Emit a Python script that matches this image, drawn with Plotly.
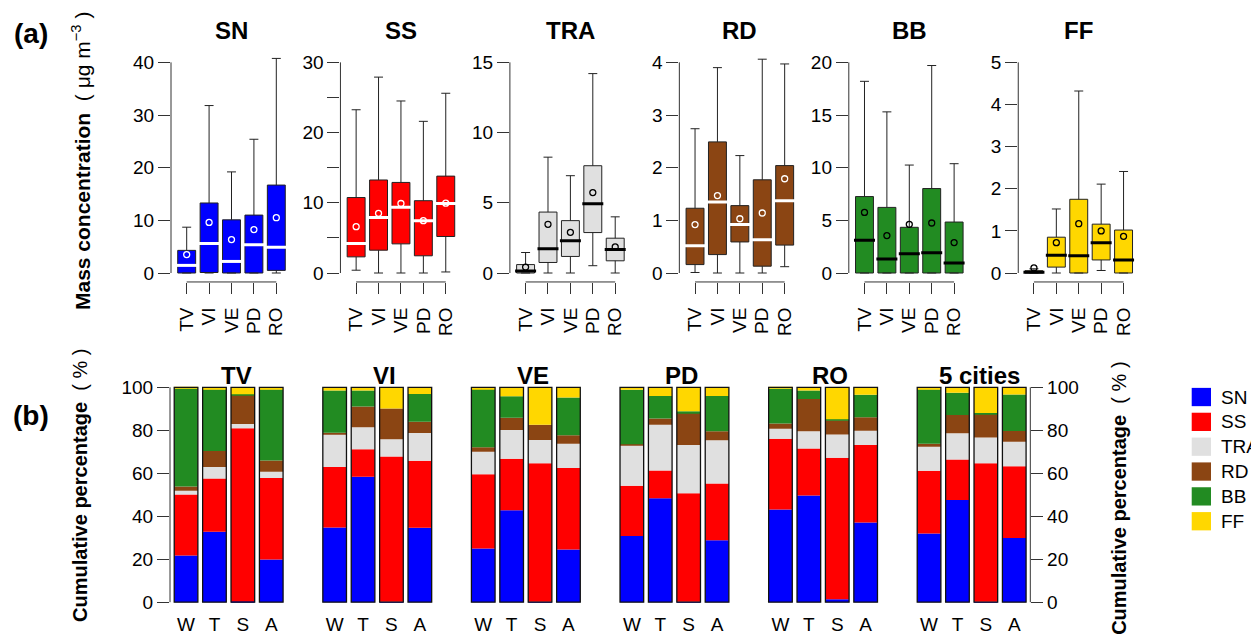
import plotly.graph_objects as go

# page body has an 8px margin: the figure is sized and laid out to compensate
OFF = 8
W, H = 1259 - OFF, 637 - OFF
FONT = "Liberation Sans, Arial, Helvetica, sans-serif"

# ---------------- data ----------------
cities = ["TV", "VI", "VE", "PD", "RO"]
species = ["SN", "SS", "TRA", "RD", "BB", "FF"]
species_colors = ["#0000FF", "#FF0000", "#E0E0E0", "#8B4513", "#228B22", "#FFD700"]
median_colors = ["white", "white", "black", "white", "black", "black"]

# (a) box statistics (ug m-3), order of cities: TV, VI, VE, PD, RO
SN_low = [0, 0, 0, 0, 0]
SN_q1 = [0, 0.1, 0, 0, 0.5]
SN_med = [1.45, 5.6, 2.2, 5.35, 4.9]
SN_q3 = [4.3, 13.3, 10.1, 11.0, 16.7]
SN_high = [8.7, 31.8, 19.2, 25.4, 40.75]
SN_mean = [3.5, 9.6, 6.35, 8.25, 10.5]

SS_low = [0.4, 0, 0, 0, 0.15]
SS_q1 = [2.3, 3.25, 4.15, 2.45, 5.2]
SS_med = [4.2, 7.9, 9.35, 7.45, 9.9]
SS_q3 = [10.75, 13.25, 12.9, 10.3, 13.8]
SS_high = [23.25, 27.9, 24.5, 21.6, 25.6]
SS_mean = [6.6, 8.5, 9.9, 7.45, 9.95]

TRA_low = [0, 0, 0, 0.52, 0]
TRA_q1 = [0, 0.75, 1.18, 2.88, 0.87]
TRA_med = [0.15, 1.72, 2.29, 4.93, 1.67]
TRA_q3 = [0.6, 4.34, 3.73, 7.64, 2.48]
TRA_high = [1.46, 8.25, 6.93, 14.2, 4.0]
TRA_mean = [0.42, 3.47, 2.9, 5.73, 1.86]

RD_low = [0.01, 0, 0, 0, 0.12]
RD_q1 = [0.16, 0.35, 0.59, 0.13, 0.53]
RD_med = [0.52, 1.35, 0.92, 0.63, 1.37]
RD_q3 = [1.23, 2.49, 1.28, 1.77, 2.04]
RD_high = [2.74, 3.9, 2.23, 4.06, 3.97]
RD_mean = [0.92, 1.47, 1.03, 1.14, 1.79]

BB_low = [0, 0, 0, 0, 0]
BB_q1 = [0, 0, 0, 0, 0]
BB_med = [3.11, 1.32, 1.82, 1.92, 0.94]
BB_q3 = [7.26, 6.23, 4.34, 8.02, 4.84]
BB_high = [18.2, 15.3, 10.25, 19.7, 10.38]
BB_mean = [5.75, 3.55, 4.62, 4.75, 2.89]

FF_low = [0, 0, 0, 0.06, 0]
FF_q1 = [0, 0.14, 0, 0.31, 0]
FF_med = [0.02, 0.42, 0.41, 0.72, 0.31]
FF_q3 = [0.055, 0.85, 1.75, 1.16, 1.02]
FF_high = [0.1, 1.52, 4.32, 2.11, 2.41]
FF_mean = [0.12, 0.72, 1.17, 1.0, 0.87]

SN_ticks = [0, 10, 20, 30, 40]
SN_ticklabels = ["0", "10", "20", "30", "40"]
SS_ticks = [0, 5, 10, 15, 20, 25, 30]
SS_ticklabels = ["0", " ", "10", " ", "20", " ", "30"]
TRA_ticks = [0, 5, 10, 15]
TRA_ticklabels = ["0", "5", "10", "15"]
RD_ticks = [0, 1, 2, 3, 4]
RD_ticklabels = ["0", "1", "2", "3", "4"]
BB_ticks = [0, 5, 10, 15, 20]
BB_ticklabels = ["0", "5", "10", "15", "20"]
FF_ticks = [0, 1, 2, 3, 4, 5]
FF_ticklabels = ["0", "1", "2", "3", "4", "5"]

# (b) seasonal contributions (%), seasons W, T, S, A
seasons = ["W", "T", "S", "A"]
sites = ["TV", "VI", "VE", "PD", "RO", "5 cities"]
pct_TV = {"SN": [21.7, 32.8, 0.3, 19.9], "SS": [28.4, 24.8, 80.6, 37.9],
          "TRA": [1.8, 5.3, 2.0, 2.9], "RD": [1.9, 7.5, 13.6, 5.2],
          "BB": [45.7, 28.7, 0.3, 33.2], "FF": [0.5, 0.9, 3.2, 0.9]}
pct_VI = {"SN": [34.8, 58.4, 0.2, 34.7], "SS": [28.1, 12.8, 67.6, 31.1],
          "TRA": [15.4, 10.2, 8.0, 12.9], "RD": [0.6, 9.7, 14.3, 5.3],
          "BB": [19.6, 7.4, 0.0, 12.9], "FF": [1.5, 1.5, 9.9, 3.1]}
pct_VE = {"SN": [25.0, 42.8, 0.2, 24.5], "SS": [34.5, 23.9, 64.5, 37.9],
          "TRA": [10.5, 13.4, 10.8, 11.3], "RD": [2.1, 5.7, 7.1, 4.0],
          "BB": [27.1, 10.0, 0.0, 17.5], "FF": [0.8, 4.2, 17.4, 4.8]}
pct_PD = {"SN": [30.8, 48.4, 0.2, 28.8], "SS": [23.4, 12.9, 50.5, 26.4],
          "TRA": [19.0, 21.3, 22.5, 20.1], "RD": [0.3, 2.9, 14.9, 4.2],
          "BB": [25.3, 10.5, 0.7, 16.5], "FF": [1.2, 4.0, 11.2, 4.0]}
pct_RO = {"SN": [43.1, 49.6, 1.4, 37.1], "SS": [33.0, 21.9, 65.8, 36.1],
          "TRA": [4.6, 8.0, 10.8, 6.6], "RD": [2.5, 15.0, 6.7, 6.3],
          "BB": [16.2, 4.0, 0.4, 10.4], "FF": [0.6, 1.5, 14.9, 3.5]}
pct_ALL = {"SN": [32.0, 47.6, 0.2, 29.9], "SS": [29.2, 18.8, 64.5, 33.4],
           "TRA": [11.1, 12.2, 11.9, 11.4], "RD": [1.4, 8.5, 11.1, 5.0],
           "BB": [25.4, 10.3, 0.3, 16.9], "FF": [0.9, 2.6, 12.0, 3.4]}
pct_ticks = [0, 20, 40, 60, 80, 100]

# ---------------- assembly ----------------
box_stats = [
    (SN_low, SN_q1, SN_med, SN_q3, SN_high, SN_mean, SN_ticks, SN_ticklabels),
    (SS_low, SS_q1, SS_med, SS_q3, SS_high, SS_mean, SS_ticks, SS_ticklabels),
    (TRA_low, TRA_q1, TRA_med, TRA_q3, TRA_high, TRA_mean, TRA_ticks, TRA_ticklabels),
    (RD_low, RD_q1, RD_med, RD_q3, RD_high, RD_mean, RD_ticks, RD_ticklabels),
    (BB_low, BB_q1, BB_med, BB_q3, BB_high, BB_mean, BB_ticks, BB_ticklabels),
    (FF_low, FF_q1, FF_med, FF_q3, FF_high, FF_mean, FF_ticks, FF_ticklabels),
]
site_pcts = [pct_TV, pct_VI, pct_VE, pct_PD, pct_RO, pct_ALL]

AX = "#333333"


def fx(px):
    return (px - OFF) / W


def fy(py):
    return 1 - (py - OFF) / H


def ax_names(n):
    s = "" if n == 1 else str(n)
    return "x" + s, "y" + s, "xaxis" + s, "yaxis" + s


fig = go.Figure()
layout = dict()
shapes = []
annotations = []

# ---- (a) box plots ----
TOP_Y0, TOP_Y1 = 281.7, 48.5  # screen-pixel bottom / top of plot region
for i, sp in enumerate(species):
    low, q1, med, q3, high, mean, ticks, ticklabels = box_stats[i]
    xa, ya, xkey, ykey = ax_names(i + 1)
    xleft = 171 + 169.45 * i
    T = ticks[-1]
    pos = list(range(1, len(cities) + 1))
    fig.add_trace(go.Box(
        x=pos, q1=q1, median=med, q3=q3, lowerfence=low, upperfence=high,
        fillcolor=species_colors[i], line=dict(color="#222222", width=1),
        width=0.8, whiskerwidth=0.5, boxpoints=False,
        xaxis=xa, yaxis=ya, showlegend=False, hoverinfo="skip"))
    fig.add_trace(go.Scatter(
        x=pos, y=med, mode="markers",
        marker=dict(symbol="line-ew", size=15, color=median_colors[i],
                    line=dict(width=3, color=median_colors[i])),
        xaxis=xa, yaxis=ya, showlegend=False, hoverinfo="skip"))
    fig.add_trace(go.Scatter(
        x=pos, y=mean, mode="markers",
        marker=dict(symbol="circle-open", size=6, color=median_colors[i],
                    line=dict(width=1.3, color=median_colors[i])),
        xaxis=xa, yaxis=ya, showlegend=False, hoverinfo="skip"))
    layout[xkey] = dict(
        domain=[fx(xleft), fx(xleft + 121)], anchor=ya, range=[0.3, 5.7],
        tickmode="array", tickvals=pos, ticktext=cities, tickangle=-90,
        ticks="outside", ticklen=11, tickwidth=1, tickcolor=AX,
        showline=False, showgrid=False, zeroline=False,
        tickfont=dict(size=19, color="black", family=FONT),
        ticklabelstandoff=6)
    layout[ykey] = dict(
        domain=[fy(TOP_Y0), fy(TOP_Y1)], anchor=xa,
        range=[-9 * T / 212, 224.2 * T / 212],
        tickmode="array", tickvals=ticks, ticktext=ticklabels,
        ticks="outside", ticklen=12, tickwidth=1, tickcolor=AX,
        showline=False, showgrid=False, zeroline=False,
        tickfont=dict(size=19, color="black", family=FONT))
    shapes.append(dict(type="line", xref=f"{xa} domain", yref=ya,
                       x0=0, x1=0, y0=ticks[0], y1=ticks[-1],
                       line=dict(color=AX, width=1)))
    shapes.append(dict(type="line", xref=xa, yref=f"{ya} domain",
                       x0=pos[0], x1=pos[-1], y0=0, y1=0,
                       line=dict(color=AX, width=1)))
    annotations.append(dict(text=f"<b>{sp}</b>", xref=xa, yref="paper",
                            x=3, y=fy(29), xanchor="center", yanchor="middle",
                            showarrow=False,
                            font=dict(size=24, color="black", family=FONT)))

# ---- (b) stacked bars ----
BOT_Y0, BOT_Y1 = 612.65, 379.05
for j, site in enumerate(sites):
    xa, ya, xkey, ykey = ax_names(j + 7)
    xleft = 170 + 148.6 * j
    pct = site_pcts[j]
    base = [0.0] * len(seasons)
    for k, sp in enumerate(species):
        vals = pct[sp]
        fig.add_trace(go.Bar(
            x=seasons, y=vals, base=list(base), width=0.833,
            marker=dict(color=species_colors[k], line=dict(width=0)),
            xaxis=xa, yaxis=ya, showlegend=False, hoverinfo="skip"))
        base = [b + v for b, v in zip(base, vals)]
    fig.add_trace(go.Bar(
        x=seasons, y=base, base=[0.0] * len(seasons), width=0.833,
        marker=dict(color="rgba(0,0,0,0)", line=dict(width=1.3, color="#111111")),
        xaxis=xa, yaxis=ya, showlegend=False, hoverinfo="skip"))
    yax = dict(
        domain=[fy(BOT_Y0), fy(BOT_Y1)], anchor=xa, range=[-4, 104],
        tickmode="array", tickvals=pct_ticks,
        showline=False, showgrid=False, zeroline=False,
        tickfont=dict(size=19, color="black", family=FONT))
    if j == 0:
        yax.update(ticks="outside", ticklen=12, tickwidth=1, tickcolor=AX,
                   showticklabels=True)
        shapes.append(dict(type="line", xref=f"{xa} domain", yref=ya,
                           x0=0, x1=0, y0=pct_ticks[0], y1=pct_ticks[-1],
                           line=dict(color=AX, width=1)))
    elif j == len(sites) - 1:
        yax.update(side="right", ticks="outside", ticklen=12, tickwidth=1,
                   tickcolor=AX, showticklabels=True)
        shapes.append(dict(type="line", xref=f"{xa} domain", yref=ya,
                           x0=1, x1=1, y0=pct_ticks[0], y1=pct_ticks[-1],
                           line=dict(color=AX, width=1)))
    else:
        yax.update(ticks="", showticklabels=False)
    layout[ykey] = yax
    layout[xkey] = dict(
        domain=[fx(xleft), fx(xleft + 117.3)], anchor=ya,
        range=[-0.565, len(seasons) - 1 + 0.565], type="category",
        ticks="", showline=False, showgrid=False, zeroline=False,
        tickfont=dict(size=19, color="black", family=FONT))
    annotations.append(dict(text=f"<b>{site}</b>", xref=f"{xa} domain",
                            yref="paper", x=66 / 117.3, y=fy(376),
                            xanchor="center", yanchor="middle", showarrow=False,
                            font=dict(size=24, color="black", family=FONT)))

# ---- labels ----
annotations.append(dict(text="<b>(a)</b>", xref="paper", yref="paper",
                        x=fx(31), y=fy(32), xanchor="center", yanchor="middle",
                        showarrow=False, font=dict(size=28, color="black", family=FONT)))
annotations.append(dict(text="<b>(b)</b>", xref="paper", yref="paper",
                        x=fx(31), y=fy(416), xanchor="center", yanchor="middle",
                        showarrow=False, font=dict(size=28, color="black", family=FONT)))
annotations.append(dict(
    text="<b>Mass concentration</b>\u00a0\u00a0(\u00a0\u03bcg m<sup>\u22123</sup>\u00a0)",
    xref="paper", yref="paper", x=fx(81), y=fy(160), textangle=-90,
    xanchor="center", yanchor="middle", showarrow=False,
    font=dict(size=21, color="black", family=FONT)))
for xp, yp in ((80, 487), (1119, 500)):
    annotations.append(dict(
        text="<b>Cumulative percentage</b>\u00a0\u00a0(\u00a0%\u00a0)",
        xref="paper", yref="paper", x=fx(xp), y=fy(yp), textangle=-90,
        xanchor="center", yanchor="middle", showarrow=False,
        font=dict(size=20, color="black", family=FONT)))

# ---- legend (manual, R style) ----
for k, sp in enumerate(species):
    yc = 397.5 + 25 * k
    shapes.append(dict(type="rect", xref="paper", yref="paper",
                       x0=fx(1191.7), x1=fx(1211), y0=fy(yc + 9.2), y1=fy(yc - 9.2),
                       fillcolor=species_colors[k], line=dict(width=0)))
    annotations.append(dict(text=sp, xref="paper", yref="paper",
                            x=fx(1219), y=fy(yc), xanchor="left", yanchor="middle",
                            showarrow=False,
                            font=dict(size=19, color="black", family=FONT)))

fig.update_layout(**layout)
fig.update_layout(
    width=W, height=H, margin=dict(l=0, r=0, t=0, b=0),
    paper_bgcolor="white", plot_bgcolor="white",
    barmode="overlay", showlegend=False, hovermode=False,
    shapes=shapes, annotations=annotations,
    font=dict(family=FONT, color="black"))

fig.write_html("out.html")
